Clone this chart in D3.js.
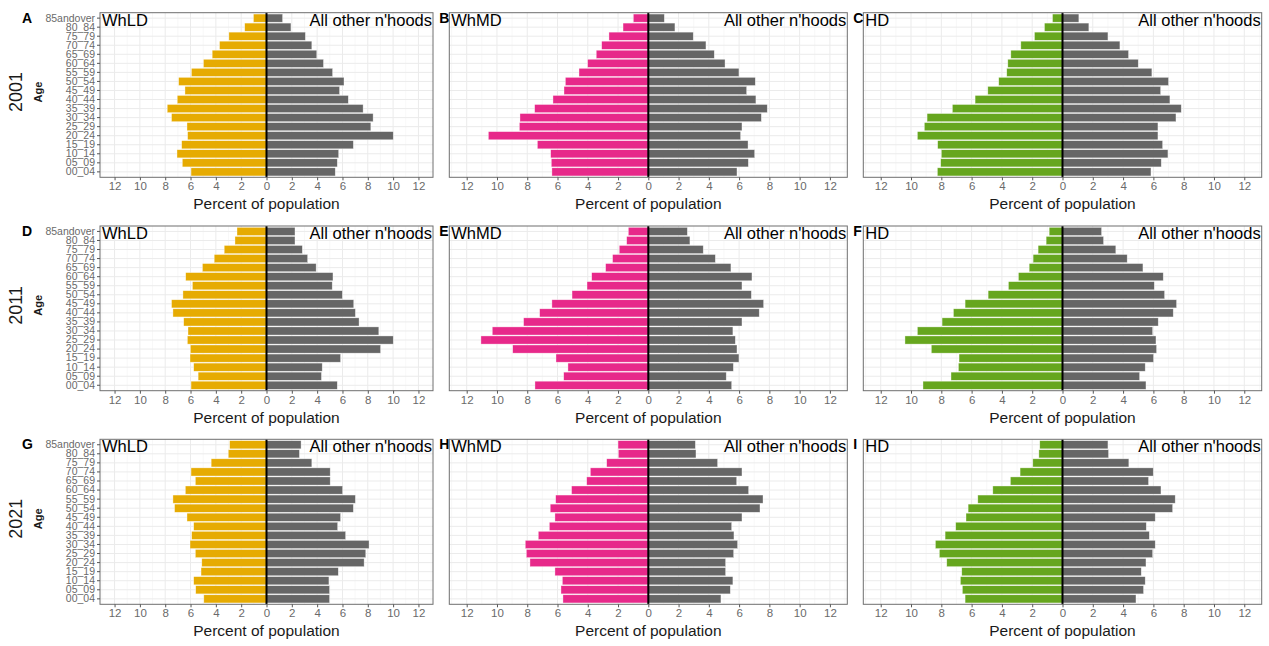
<!DOCTYPE html>
<html>
<head>
<meta charset="utf-8">
<script src="https://cdn.jsdelivr.net/npm/d3@7"></script>
<style>
  body { margin: 0; background: #fff; }
  svg text { font-family: "Liberation Sans", Arial, sans-serif; }
</style>
</head>
<body>
<svg id="chart" width="1269" height="646"></svg>
<script>
// age bands, youngest first
var ageGroups = ["00_04","05_09","10_14","15_19","20_24","25_29","30_34","35_39","40_44",
                 "45_49","50_54","55_59","60_64","65_69","70_74","75_79","80_84","85andover"];
var years = ["2001", "2011", "2021"];
var groups = ["WhLD", "WhMD", "HD"];
var groupColors = ["#E6AB02", "#E7298A", "#66A61E"];
var otherLabel = "All other n'hoods";
var xTicks = [-12, -10, -8, -6, -4, -2, 0, 2, 4, 6, 8, 10, 12];

// percent of population, by age band (same order as ageGroups)
var whld2001  = [5.96, 6.65, 7.07, 6.70, 6.23, 6.28, 7.50, 7.84, 7.05, 6.44, 6.94, 5.93, 4.98, 4.29, 3.71, 2.97, 1.72, 1.03];
var othLD2001 = [5.43, 5.59, 5.70, 6.86, 10.01, 8.24, 8.42, 7.63, 6.46, 5.77, 6.12, 5.22, 4.50, 3.97, 3.58, 3.07, 1.93, 1.27];
var whmd2001  = [6.37, 6.41, 6.45, 7.33, 10.57, 8.52, 8.48, 7.51, 6.30, 5.57, 5.48, 4.58, 4.01, 3.44, 3.08, 2.60, 1.67, 0.99];
var othMD2001 = [5.86, 6.61, 7.03, 6.59, 6.10, 6.19, 7.47, 7.86, 7.11, 6.50, 7.07, 5.99, 5.07, 4.36, 3.81, 2.97, 1.76, 1.06];
var hd2001    = [8.26, 8.04, 8.00, 8.24, 9.58, 9.12, 8.94, 7.27, 5.77, 4.93, 4.21, 3.68, 3.61, 3.41, 2.75, 1.85, 1.19, 0.66];
var othHD2001 = [5.84, 6.52, 6.96, 6.61, 6.30, 6.30, 7.49, 7.84, 7.09, 6.48, 7.00, 5.90, 5.00, 4.36, 3.79, 3.00, 1.74, 1.08];

var whld2011  = [5.96, 5.40, 5.75, 6.04, 6.01, 6.25, 6.20, 6.54, 7.39, 7.50, 6.60, 5.85, 6.38, 5.06, 4.13, 3.34, 2.49, 2.33];
var othLD2011 = [5.59, 4.34, 4.40, 5.85, 9.01, 10.01, 8.87, 7.31, 7.02, 6.89, 5.99, 5.19, 5.25, 3.92, 3.25, 2.83, 2.25, 2.25];
var whmd2011  = [7.49, 5.59, 5.31, 6.10, 8.96, 11.06, 10.31, 8.24, 7.18, 6.37, 5.04, 4.05, 3.74, 2.82, 2.36, 1.92, 1.43, 1.32];
var othMD2011 = [5.51, 5.15, 5.62, 5.99, 5.86, 5.75, 5.59, 6.19, 7.33, 7.62, 6.81, 6.19, 6.85, 5.46, 4.43, 3.63, 2.75, 2.58];
var hd2011    = [9.21, 7.36, 6.87, 6.83, 8.66, 10.40, 9.58, 7.95, 7.20, 6.43, 4.91, 3.57, 2.91, 2.20, 1.94, 1.61, 1.08, 0.88];
var othHD2011 = [5.51, 5.09, 5.46, 6.01, 6.21, 6.17, 5.95, 6.32, 7.31, 7.53, 6.74, 6.06, 6.65, 5.31, 4.27, 3.52, 2.71, 2.58];

var whld2021  = [4.95, 5.59, 5.75, 5.17, 5.11, 5.62, 6.04, 5.91, 5.75, 6.28, 7.26, 7.39, 6.41, 5.62, 5.96, 4.37, 3.02, 2.91];
var othLD2021 = [4.98, 4.98, 4.93, 5.67, 7.71, 7.84, 8.10, 6.25, 5.62, 5.85, 6.86, 7.02, 6.01, 5.03, 5.03, 3.58, 2.60, 2.73];
var whmd2021  = [5.64, 5.77, 5.68, 6.17, 7.82, 8.06, 8.13, 7.27, 6.54, 6.17, 6.48, 6.12, 5.07, 4.07, 3.83, 2.75, 1.98, 2.00];
var othMD2021 = [4.80, 5.42, 5.59, 5.11, 5.11, 5.64, 5.90, 5.66, 5.51, 6.19, 7.38, 7.58, 6.63, 5.84, 6.19, 4.58, 3.15, 3.11];
var hd2021    = [6.43, 6.61, 6.74, 6.65, 7.64, 8.13, 8.39, 7.75, 7.05, 6.37, 6.23, 5.59, 4.60, 3.44, 2.80, 1.96, 1.56, 1.50];
var othHD2021 = [4.85, 5.35, 5.46, 5.20, 5.51, 5.95, 6.12, 5.73, 5.53, 6.12, 7.27, 7.44, 6.50, 5.68, 5.99, 4.38, 3.04, 3.00];

var panelData = [
  [[whld2001, othLD2001], [whmd2001, othMD2001], [hd2001, othHD2001]],
  [[whld2011, othLD2011], [whmd2011, othMD2011], [hd2011, othHD2011]],
  [[whld2021, othLD2021], [whmd2021, othMD2021], [hd2021, othHD2021]]
];
var panelLetters = [["A","B","C"],["D","E","F"],["G","H","I"]];

var svg = d3.select("#chart");

// panel frames
var cols = [{x0: 100, x1: 433}, {x0: 449.3, x1: 847.3}, {x0: 863.3, x1: 1261.7}];
var rows = [{y0: 12.7, y1: 177.3}, {y0: 226, y1: 390.7}, {y0: 439.3, y1: 604.3}];
var grey = "#666666";

rows.forEach(function(r, ri) {
  cols.forEach(function(c, ci) {
    var x = d3.scaleLinear().domain([-13.15, 13.15]).range([c.x0, c.x1]);
    var y = d3.scaleBand().domain(ageGroups.slice().reverse())
      .range([r.y0, r.y1]).paddingInner(0.1).paddingOuter(0.15);

    var g = svg.append("g");

    // minor grid
    g.selectAll(".minor").data(d3.range(-13, 14, 2)).enter().append("line")
      .attr("x1", d => x(d)).attr("x2", d => x(d))
      .attr("y1", r.y0).attr("y2", r.y1)
      .attr("stroke", "#f4f4f4").attr("stroke-width", 0.6);
    // major grid
    g.selectAll(".majx").data(xTicks).enter().append("line")
      .attr("x1", d => x(d)).attr("x2", d => x(d))
      .attr("y1", r.y0).attr("y2", r.y1)
      .attr("stroke", "#ebebeb").attr("stroke-width", 1);
    g.selectAll(".majy").data(ageGroups).enter().append("line")
      .attr("x1", c.x0).attr("x2", c.x1)
      .attr("y1", d => y(d) + y.bandwidth() / 2).attr("y2", d => y(d) + y.bandwidth() / 2)
      .attr("stroke", "#ebebeb").attr("stroke-width", 1);

    var vals = panelData[ri][ci];
    // group bars (left)
    g.selectAll(".left").data(ageGroups).enter().append("rect")
      .attr("x", (d, i) => x(-vals[0][i]))
      .attr("width", (d, i) => x(0) - x(-vals[0][i]))
      .attr("y", d => y(d)).attr("height", y.bandwidth())
      .attr("fill", groupColors[ci])
      .attr("stroke", "#ffffff").attr("stroke-opacity", 0.6).attr("stroke-width", 0.6);
    // all other neighbourhoods (right)
    g.selectAll(".right").data(ageGroups).enter().append("rect")
      .attr("x", x(0))
      .attr("width", (d, i) => x(vals[1][i]) - x(0))
      .attr("y", d => y(d)).attr("height", y.bandwidth())
      .attr("fill", grey)
      .attr("stroke", "#ffffff").attr("stroke-opacity", 0.6).attr("stroke-width", 0.6);

    // zero line
    g.append("line")
      .attr("x1", x(0)).attr("x2", x(0)).attr("y1", r.y0).attr("y2", r.y1)
      .attr("stroke", "#000").attr("stroke-width", 2);

    // panel border
    g.append("rect")
      .attr("x", c.x0).attr("y", r.y0)
      .attr("width", c.x1 - c.x0).attr("height", r.y1 - r.y0)
      .attr("fill", "none").attr("stroke", "#6e6e6e").attr("stroke-width", 1);

    // x axis
    var xAxis = d3.axisBottom(x).tickValues(xTicks)
      .tickFormat(d => Math.abs(d)).tickSize(3).tickPadding(2);
    var ax = g.append("g").attr("transform", "translate(0," + r.y1 + ")").call(xAxis);
    ax.select(".domain").remove();
    ax.selectAll(".tick line").attr("stroke", "#555");
    ax.selectAll(".tick text").attr("fill", "#6a6a6a").attr("font-size", 11.5);

    g.append("text")
      .attr("x", (c.x0 + c.x1) / 2).attr("y", r.y1 + 32)
      .attr("text-anchor", "middle").attr("font-size", 15.5).attr("fill", "#1a1a1a")
      .text("Percent of population");

    // y axis only on first column
    if (ci === 0) {
      var yAxis = d3.axisLeft(y).tickSize(3).tickPadding(2);
      var ay = g.append("g").attr("transform", "translate(" + c.x0 + ",0)").call(yAxis);
      ay.select(".domain").remove();
      ay.selectAll(".tick line").attr("stroke", "#555");
      ay.selectAll(".tick text").attr("fill", "#6a6a6a").attr("font-size", 10.5);

      g.append("text")
        .attr("transform", "translate(22," + ((r.y0 + r.y1) / 2 - 3) + ") rotate(-90)")
        .attr("text-anchor", "middle").attr("font-size", 18).attr("fill", "#1a1a1a")
        .text(years[ri]);
      g.append("text")
        .attr("transform", "translate(42," + ((r.y0 + r.y1) / 2 - 3) + ") rotate(-90)")
        .attr("text-anchor", "middle").attr("font-size", 11).attr("font-weight", "bold")
        .attr("fill", "#1a1a1a")
        .text("Age");
    }

    // in-panel labels
    g.append("text")
      .attr("x", c.x0 + 2).attr("y", r.y0 + 13)
      .attr("font-size", 16.5).attr("fill", "#000")
      .text(groups[ci]);
    g.append("text")
      .attr("x", c.x1 - 1).attr("y", r.y0 + 13)
      .attr("text-anchor", "end").attr("font-size", 16.5).attr("fill", "#000")
      .text(otherLabel);

    // panel letter
    g.append("text")
      .attr("x", ci === 0 ? 22 : c.x0 - 10).attr("y", r.y0 + 10)
      .attr("font-size", 14).attr("font-weight", "bold").attr("fill", "#000")
      .text(panelLetters[ri][ci]);
  });
});
</script>
</body>
</html>
